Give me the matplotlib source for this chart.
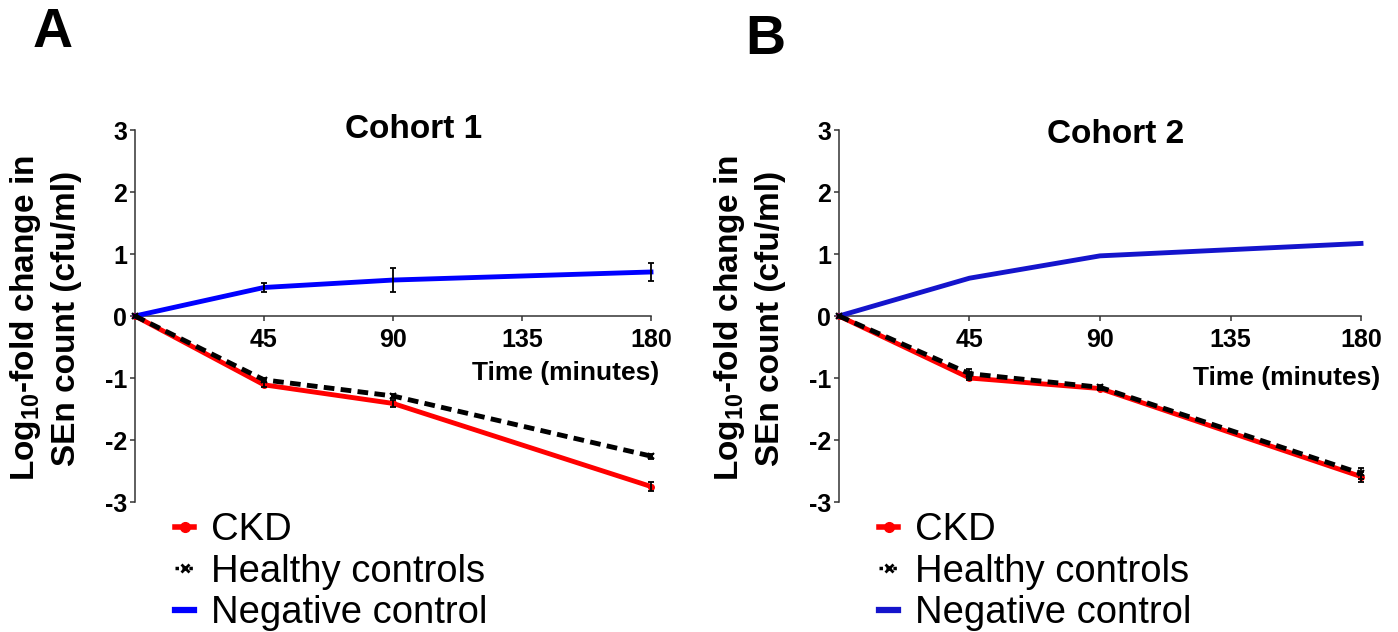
#!/usr/bin/env python3

import matplotlib

matplotlib.use("Agg")
import matplotlib.pyplot as plt
from matplotlib.lines import Line2D

plt.rcParams["font.family"] = "Liberation Sans"
plt.rcParams["mathtext.fontset"] = "custom"
plt.rcParams["mathtext.rm"] = "Liberation Sans:bold"
plt.rcParams["mathtext.bf"] = "Liberation Sans:bold"

# data (log10-fold change)
time = [0, 45, 90, 180]

ckd_1 = [0, -1.11, -1.41, -2.75]
ckd_1_err = [0, 0.04, 0.05, 0.08]
healthy_1 = [0, -1.03, -1.29, -2.26]
healthy_1_err = [0, 0.03, 0.04, 0.04]
neg_1 = [0, 0.46, 0.58, 0.71]
neg_1_err = [0, 0.08, 0.20, 0.14]

ckd_2 = [0, -1.00, -1.17, -2.59]
ckd_2_err = [0, 0.04, 0.03, 0.08]
healthy_2 = [0, -0.93, -1.15, -2.54]
healthy_2_err = [0, 0.07, 0.03, 0.09]
neg_2 = [0, 0.61, 0.97, 1.17]
neg_2_err = [0, 0, 0, 0]

x_ticks = [45, 90, 135, 180]
y_ticks = [-3, -2, -1, 0, 1, 2, 3]
labels = ["CKD", "Healthy controls", "Negative control"]

W, H = 1398, 632
RED = "#ff0000"
DASH = (0, (2.2, 1.3))


def px_axes(fig, left, top, right, bottom):
    """Axes from pixel box."""
    return fig.add_axes([left / W, 1 - bottom / H, (right - left) / W, (bottom - top) / H])


def draw_panel(fig, ax, ckd, ckd_err, healthy, healthy_err, neg, neg_err, blue, title, title_pos, time_pos):
    ax.plot(time, ckd, color=RED, lw=3.5, marker="o", ms=4, clip_on=False, zorder=3)
    ax.plot(time, healthy, color="black", lw=3.5, ls=DASH, marker="x", ms=4, mew=1.5,
            clip_on=False, zorder=4)
    ax.plot(time, neg, color=blue, lw=3.5, clip_on=False, zorder=3)
    for vals, errs in [(ckd, ckd_err), (healthy, healthy_err), (neg, neg_err)]:
        pts = [(t, v, e) for t, v, e in zip(time, vals, errs) if e > 0]
        if pts:
            ax.errorbar([p[0] for p in pts], [p[1] for p in pts], yerr=[p[2] for p in pts],
                        fmt="none", ecolor="black", elinewidth=1.3, capsize=2.5, capthick=1.3,
                        clip_on=False, zorder=5)

    ax.set_xlim(0, 180)
    ax.set_ylim(-3, 3)
    for s in ["top", "right"]:
        ax.spines[s].set_visible(False)
    ax.spines["bottom"].set_position(("data", 0))
    for s in ["left", "bottom"]:
        ax.spines[s].set_linewidth(1.1)
        ax.spines[s].set_color("#333333")
    ax.set_xticks(x_ticks)
    ax.set_xticklabels([str(t) for t in x_ticks], fontsize=18, fontweight="bold")
    ax.set_yticks(y_ticks)
    ax.set_yticklabels([str(t) for t in y_ticks], fontsize=18, fontweight="bold")
    ax.tick_params(axis="x", direction="out", length=3.6, width=1.1, color="#333333", pad=5)
    ax.tick_params(axis="y", direction="out", length=3.6, width=1.1, color="#333333", pad=2)
    ax.patch.set_alpha(0)

    ax.text(title_pos[0], title_pos[1], title, transform=ax.transAxes, ha="center",
            va="center", fontsize=24, fontweight="bold")
    ax.text(time_pos[0], time_pos[1], "Time (minutes)", transform=ax.get_yaxis_transform(),
            ha="right", va="center", fontsize=19, fontweight="bold")

    # y label, left of the axis
    bb = ax.get_position()
    x0 = bb.x0 * W
    fig.text((x0 - 90) / W, 1 - 318 / H, "Log$_{10}$-fold change in\nSEn count (cfu/ml)",
             rotation=90, ha="center", va="center", multialignment="center",
             fontsize=24, fontweight="bold", linespacing=1.3)

    handles = [
        Line2D([], [], color=RED, lw=4, marker="o", ms=7),
        Line2D([], [], color="black", lw=2.5, ls=(0, (1, 1)), marker="x", ms=6, mew=2),
        Line2D([], [], color=blue, lw=4.5),
    ]
    fig.legend(handles, labels, loc="upper left",
               bbox_to_anchor=((x0 + 40) / W, 1 - 512 / H),
               frameon=False, fontsize=27.5, handlelength=0.5, handletextpad=0.45,
               labelspacing=0.15, borderpad=0, borderaxespad=0)


def main():
    fig = plt.figure(figsize=(W / 100, H / 100), dpi=100)

    ax1 = px_axes(fig, 135, 130, 651, 502)
    draw_panel(fig, ax1, ckd_1, ckd_1_err, healthy_1, healthy_1_err, neg_1, neg_1_err,
               "#0000ff", "Cohort 1", (0.54, 1.0), (1.016, -0.92))

    ax2 = px_axes(fig, 839, 130, 1361, 502)
    draw_panel(fig, ax2, ckd_2, ckd_2_err, healthy_2, healthy_2_err, neg_2, neg_2_err,
               "#1414cc", "Cohort 2", (0.529, 0.987), (1.036, -1.0))

    fig.text(53 / W, 1 - 33 / H, "A", fontsize=40, fontweight="bold", ha="center", va="center")
    fig.text(765 / W, 1 - 40 / H, "B", fontsize=40, fontweight="bold", ha="center", va="center")

    fig.savefig("out.png", dpi=100)


if __name__ == "__main__":
    main()
